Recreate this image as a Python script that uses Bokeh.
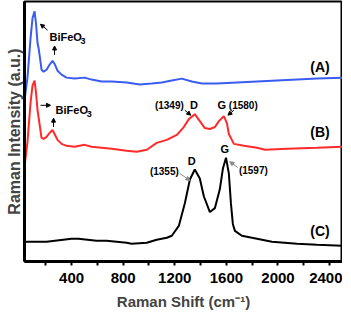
from bokeh.plotting import figure
from bokeh.models import Range1d, FixedTicker, Arrow, NormalHead
from bokeh.core.properties import value
from bokeh.embed import file_html
from bokeh.resources import INLINE

# Raman shift (cm-1) and stacked intensities (a.u., offset traces)
shift_a = [35, 58, 82, 97, 113, 124, 136, 144, 155, 167, 183, 206, 229, 252, 268, 291, 322, 361, 423, 501, 555, 633, 711, 827, 928, 1021, 1099, 1177, 1254, 1332, 1410, 1526, 1682, 1837, 1992, 2148, 2303, 2497]
int_a = [163, 186, 226, 246, 253, 241, 221, 216, 206, 194, 192, 194, 199, 203, 200, 193, 189, 186, 185, 186, 184, 182, 182, 181, 179, 180, 181, 183, 185, 182, 180, 180, 181, 182, 183, 184, 185, 186]

shift_b = [35, 58, 82, 97, 113, 124, 136, 144, 155, 167, 183, 206, 229, 252, 268, 291, 322, 361, 423, 501, 555, 633, 711, 827, 905, 983, 1060, 1138, 1216, 1270, 1309, 1355, 1394, 1433, 1472, 1511, 1542, 1580, 1604, 1619, 1658, 1736, 1837, 1899, 2070, 2303, 2497]
int_b = [96, 121, 161, 178, 183, 171, 153, 146, 136, 125, 124, 126, 130, 133, 129, 123, 119, 117, 116, 118, 116, 115, 114, 112, 111, 113, 120, 123, 128, 136, 144, 149, 142, 135, 134, 136, 142, 147, 140, 129, 119, 117, 115, 113, 114, 115, 116]

shift_c = [35, 206, 400, 454, 594, 672, 827, 866, 983, 1060, 1138, 1177, 1231, 1278, 1317, 1355, 1394, 1425, 1472, 1511, 1549, 1573, 1597, 1619, 1635, 1650, 1666, 1720, 1837, 1953, 2148, 2303, 2497]
int_c = [20, 20, 23, 23, 21, 21, 19, 18, 19, 22, 24, 26, 36, 59, 83, 93, 84, 66, 50, 54, 73, 94, 105, 89, 59, 38, 31, 26, 23, 20, 18, 17, 16]

x_ticks = [400, 800, 1200, 1600, 2000, 2400]
x_minor = [200, 600, 1000, 1400, 1800, 2200]

FONT = "Liberation Sans"

p = figure(frame_width=318, frame_height=260, output_backend="svg", toolbar_location=None,
           x_range=Range1d(35, 2500), y_range=Range1d(0, 263),
           min_border_left=24, min_border_right=0, min_border_top=1, min_border_bottom=4)
p.grid.visible = False
p.background_fill_color = "white"
p.outline_line_color = "black"
p.outline_line_width = 2

p.line(shift_a, int_a, line_color="#3a5cf0", line_width=2)
p.line(shift_b, int_b, line_color="#ff2a2a", line_width=2)
p.line(shift_c, int_c, line_color="black", line_width=2)

xa = p.xaxis[0]
xa.ticker = FixedTicker(ticks=x_ticks, minor_ticks=x_minor)
xa.axis_line_width = 3
xa.major_tick_in = 0
xa.major_tick_out = 4
xa.minor_tick_in = 0
xa.minor_tick_out = 4
xa.major_tick_line_width = 2
xa.minor_tick_line_width = 2
xa.major_label_text_font = FONT
xa.major_label_text_font_style = "bold"
xa.major_label_text_font_size = "15px"
xa.major_label_text_color = "black"
xa.major_label_standoff = 7
xa.axis_label = "Raman Shift (cm\u207b\u00b9)"
xa.axis_label_text_font = FONT
xa.axis_label_text_font_style = "bold"
xa.axis_label_text_font_size = "15px"
xa.axis_label_standoff = 7

ya = p.yaxis[0]
ya.ticker = FixedTicker(ticks=[])
ya.axis_line_width = 3
ya.axis_label = "Raman Intensity (a.u.)"
ya.axis_label_text_font = FONT
ya.axis_label_text_font_style = "bold"
ya.axis_label_text_font_size = "16px"
ya.axis_label_standoff = 2


def txt(x, y, s, size="11px", align="left", color="black"):
    p.text([x], [y], text=[s], text_font=value(FONT), text_font_style="bold",
           text_font_size=size, text_align=align, text_baseline="middle", text_color=color)


def arrow(x0, y0, x1, y1, color="black"):
    p.add_layout(Arrow(end=NormalHead(size=4, line_color=color, fill_color=color),
                       x_start=x0, y_start=y0, x_end=x1, y_end=y1,
                       line_color=color, line_width=1))


# BiFeO3 labels
txt(229, 227, "BiFeO")
txt(470, 223, "3", size="9px")
arrow(214, 234, 159, 240)
arrow(268, 209, 268, 218)

txt(276, 153, "BiFeO")
txt(517, 149, "3", size="9px")
arrow(159, 158, 237, 158)
arrow(260, 136, 260, 145)

# D / G bands of (B)
txt(1270, 158, "(1349)", size="10px", align="right")
txt(1348, 158, "D", align="center")
arrow(1278, 153, 1324, 148)
txt(1565, 158, "G", align="center")
txt(1619, 158, "(1580)", size="10px")
arrow(1658, 153, 1612, 148)

# D / G bands of (C)
txt(1332, 102, "D", align="center")
txt(1231, 91, "(1355)", size="10px", align="right")
arrow(1239, 89, 1317, 82, color="#888888")
txt(1588, 114, "G", align="center")
txt(1697, 92, "(1597)", size="10px")
arrow(1689, 95, 1627, 101, color="#888888")

# trace labels
txt(2326, 197, "(A)", size="14px", align="center")
txt(2326, 131, "(B)", size="14px", align="center")
txt(2326, 31, "(C)", size="14px", align="center")

open("out.html", "w").write(file_html(p, INLINE))
